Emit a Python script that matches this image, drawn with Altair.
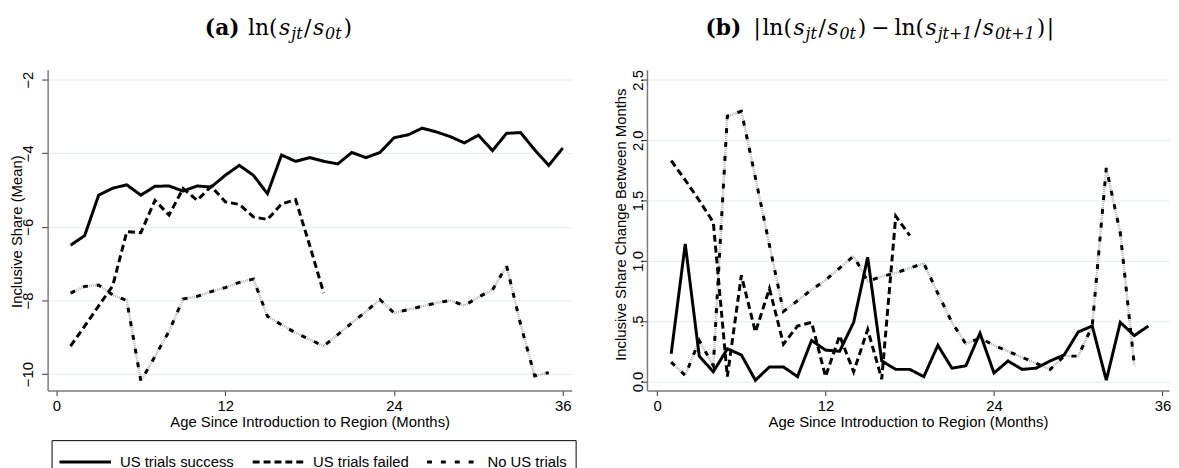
import altair as alt
import pandas as pd

# months since introduction to the region
months = list(range(1, 37))

series_names = ["US trials success", "US trials failed", "No US trials"]

# panel (a): ln(s_jt / s_0t), mean by group
a_success = [-6.5, -6.24, -5.14, -4.95, -4.86, -5.14, -4.9, -4.89, -5.03, -4.89,
             -4.92, -4.6, -4.33, -4.6, -5.1, -4.05, -4.22, -4.12, -4.22, -4.29,
             -3.98, -4.12, -3.98, -3.58, -3.5, -3.32, -3.42, -3.55, -3.72, -3.51,
             -3.93, -3.46, -3.44, -3.91, -4.33, -3.86]
a_failed = [-9.24, -8.7, -8.15, -7.6, -6.13, -6.16, -5.28, -5.68, -4.96, -5.28,
            -4.9, -5.32, -5.39, -5.73, -5.8, -5.38, -5.26, -6.5, -7.8]
a_none = [-7.8, -7.62, -7.58, -7.85, -8.0, -10.19, -9.52, -8.84, -7.96, -7.89,
          -7.76, -7.65, -7.51, -7.42, -8.43, -8.66, -8.88, -9.06, -9.24, -8.93,
          -8.61, -8.3, -7.98, -8.34, -8.25, -8.16, -8.07, -8.0, -8.14, -7.91,
          -7.71, -7.06, -8.65, -10.05, -9.96]

# panel (b): |change in ln share| between months
b_success = [0.23, 1.14, 0.21, 0.08, 0.27, 0.22, 0.01, 0.12, 0.12, 0.04,
             0.34, 0.26, 0.25, 0.49, 1.03, 0.17, 0.1, 0.1, 0.04, 0.3,
             0.11, 0.13, 0.4, 0.07, 0.17, 0.1, 0.11, 0.17, 0.22, 0.41,
             0.46, 0.01, 0.49, 0.38, 0.46]
b_failed = [1.83, 1.67, 1.5, 1.32, 0.04, 0.88, 0.41, 0.77, 0.31, 0.46,
            0.49, 0.04, 0.38, 0.08, 0.43, 0.02, 1.37, 1.21]
b_none = [0.16, 0.05, 0.34, 0.13, 2.2, 2.24, 1.69, 1.13, 0.58, 0.67,
          0.76, 0.84, 0.94, 1.04, 0.83, 0.87, 0.9, 0.94, 0.98, 0.73,
          0.49, 0.31, 0.36, 0.3, 0.25, 0.2, 0.15, 0.1, 0.21, 0.21,
          0.46, 1.77, 1.23, 0.13]

x_ticks = [0, 12, 24, 36]
a_y_ticks = [-10, -8, -6, -4, -2]
b_y_ticks = [0, 0.5, 1, 1.5, 2, 2.5]

x_title = "Age Since Introduction to Region (Months)"
a_y_title = "Inclusive Share (Mean)"
b_y_title = "Inclusive Share Change Between Months"

# panel titles, split so the math can be set in pieces: (text, kind)
a_title = [("(a)", "bold"), ("ln(", "rm"), ("s", "it"), ("jt", "sub"), ("/", "rm"),
           ("s", "it"), ("0t", "sub"), (")", "rm")]
b_title = [("(b)", "bold"), ("|", "rm"), ("ln(", "rm"), ("s", "it"), ("jt", "sub"),
           ("/", "rm"), ("s", "it"), ("0t", "sub"), (")", "rm"), ("\u2212", "rm"),
           ("ln(", "rm"), ("s", "it"), ("jt+1", "sub"), ("/", "rm"), ("s", "it"),
           ("0t+1", "sub"), (")", "rm"), ("|", "rm")]
# space before each piece, px
a_title_gap = [0, 8, 1.5, 1, 1.5, 1.5, 1, 2]
b_title_gap = [0, 12, 1.5, 1.5, 1, 1.5, 1.5, 1, 2, 5, 5, 1.5, 1, 1.5, 1.5, 1, 2, 1.5]

# rough DejaVu Serif advance widths (em) used to chain the pieces
EM = {
    "rm": {"(": .39, ")": .39, "l": .32, "n": .644, "/": .337, "|": .337,
           "\u2212": .838},
    "it": {"s": .513, "j": .316, "t": .402, "0": .636, "1": .636, "+": .838},
    "bold": {"(": .473, ")": .473, "a": .675, "b": .716},
}
MAIN_SIZE, SUB_SIZE = 22, 16

one_row = pd.DataFrame({"k": [0]})


def long_table(success, failed, none):
    rows = []
    for name, vals in zip(series_names, [success, failed, none]):
        for m, v in zip(months, vals):
            rows.append({"month": m, "value": v, "series": name})
    return pd.DataFrame(rows)


def title_layers(pieces, gaps, center):
    widths = []
    for text, kind in pieces:
        table = EM["it"] if kind == "sub" else EM[kind]
        size = SUB_SIZE if kind == "sub" else MAIN_SIZE
        widths.append(sum(table.get(c, .6) for c in text) * size)
    x = center - (sum(widths) + sum(gaps)) / 2
    out = []
    for (text, kind), w, g in zip(pieces, widths, gaps):
        x += g
        out.append(alt.Chart(one_row).mark_text(
            text=text, align="left", baseline="alphabetic", font="DejaVu Serif",
            fontSize=SUB_SIZE if kind == "sub" else MAIN_SIZE,
            fontStyle="italic" if kind in ("it", "sub") else "normal",
            fontWeight="bold" if kind == "bold" else "normal", color="black"
        ).encode(x=alt.value(x), y=alt.value(-31 if kind == "sub" else -35)))
        x += w
    return out


def panel(df, width, x_dom, y_dom, y_ticks, y_title, title_x, title_y,
          label_pad, pieces, gaps, center, legend_x, label_expr="datum.label"):
    x = alt.X("month:Q", scale=alt.Scale(domain=x_dom, nice=False, zero=False),
              axis=alt.Axis(values=x_ticks, title=x_title, grid=False,
                            labelPadding=3, titlePadding=1, tickSize=5))
    y = alt.Y("value:Q", scale=alt.Scale(domain=y_dom, nice=False, zero=False),
              axis=alt.Axis(values=y_ticks, title=y_title, grid=True, tickSize=6,
                            labelAngle=270, labelAlign="center",
                            labelBaseline="alphabetic", labelPadding=label_pad,
                            labelExpr=label_expr, titleAngle=270,
                            titleBaseline="middle", titleAlign="center",
                            titleX=title_x, titleY=title_y))
    under = alt.Chart(df).transform_filter(
        alt.datum.series == "No US trials"
    ).mark_line(color="#b3b3b3", strokeWidth=2.5, strokeDash=[1, 1]).encode(x=x, y=y)
    lines = alt.Chart(df).mark_line(color="black", strokeWidth=3).encode(
        x=x, y=y,
        strokeDash=alt.StrokeDash(
            "series:N",
            scale=alt.Scale(domain=series_names, range=[[1, 0], [7, 4], [5, 9]]),
            legend=alt.Legend(title=None, orient="none", legendX=legend_x,
                              legendY=374, direction="horizontal",
                              symbolType="M-1.12,0H3.04", symbolSize=625,
                              symbolStrokeWidth=3, symbolStrokeColor="black",
                              symbolFillColor="transparent",
                              labelFont="Liberation Sans", labelFontSize=15,
                              labelColor="black", labelOffset=33, labelLimit=0,
                              columnPadding=12, padding=8,
                              strokeColor="black", fillColor="white")))
    return alt.layer(under, lines, *title_layers(pieces, gaps, center)).properties(
        width=width, height=324)


left = panel(long_table(a_success, a_failed, a_none), 529, [-0.63, 36.63],
             [-10.45, -1.73], a_y_ticks, a_y_title, -31, 163, 9,
             a_title, a_title_gap, 233, 4)
right = panel(long_table(b_success, b_failed, b_none), 527, [-0.727, 36.47],
              [-0.076, 2.585], b_y_ticks, b_y_title, -27, 156, -2,
              b_title, b_title_gap, 235, 5,
              label_expr="datum.value == 0.5 ? '.5' : datum.label")

chart = alt.hconcat(left, right, spacing=41).properties(
    padding={"left": 2, "top": 7, "right": 0, "bottom": 0}
).configure_view(strokeWidth=0).configure_axis(
    labelFont="Liberation Sans", labelFontSize=15, labelColor="black",
    titleFont="Liberation Sans", titleFontSize=15, titleFontWeight="normal",
    titleColor="black", domainColor="#7a7a7a", domainWidth=1.5,
    tickColor="#333333", gridColor="#e3ecee", gridWidth=1
)

chart.save("out.html", embed_options={"renderer": "svg", "actions": False})
